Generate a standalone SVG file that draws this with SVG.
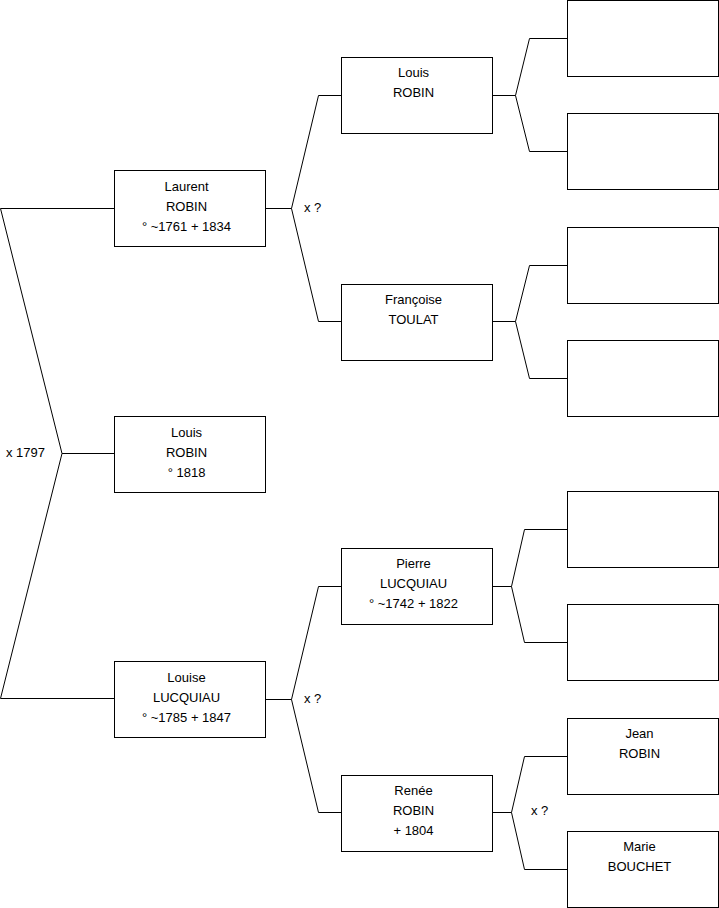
<svg xmlns="http://www.w3.org/2000/svg" width="719" height="908" viewBox="0 0 719 908">
<style>
.box{fill:#fff;stroke:#000;stroke-width:1}
.c{fill:none;stroke:#000;stroke-width:1}
text{font-family:"Liberation Sans",Arial,sans-serif;font-size:13px;fill:#000}
.m{text-anchor:middle}
</style>
<rect width="719" height="908" fill="#fff"/>
<g id="connectors">
<polyline class="c" points="114,208.5 0.5,208.5 62,453.5 0.5,698.5 114,698.5"/>
<line class="c" x1="62" y1="453.5" x2="114" y2="453.5"/>
<polyline class="c" points="341,95.5 318.5,95.5 291.5,208.5 318.5,321.5 341,321.5"/>
<line class="c" x1="265" y1="208.5" x2="291.5" y2="208.5"/>
<polyline class="c" points="341,586.5 318.5,586.5 291.5,699.5 318.5,812.5 341,812.5"/>
<line class="c" x1="265" y1="699.5" x2="291.5" y2="699.5"/>
<polyline class="c" points="567,38.5 529.5,38.5 515.5,95.5 529.5,151.5 567,151.5"/>
<line class="c" x1="492" y1="95.5" x2="515.5" y2="95.5"/>
<polyline class="c" points="567,265.5 529.5,265.5 515.5,321.5 529.5,378.5 567,378.5"/>
<line class="c" x1="492" y1="321.5" x2="515.5" y2="321.5"/>
<polyline class="c" points="567,529.5 524.5,529.5 511.5,586.5 524.5,642.5 567,642.5"/>
<line class="c" x1="492" y1="586.5" x2="511.5" y2="586.5"/>
<polyline class="c" points="567,756.5 524.5,756.5 511.5,812.5 524.5,869.5 567,869.5"/>
<line class="c" x1="492" y1="812.5" x2="511.5" y2="812.5"/>
</g>
<g id="labels">
<text x="6" y="457">x 1797</text>
<text x="304" y="212">x ?</text>
<text x="304" y="703">x ?</text>
<text x="531" y="815">x ?</text>
</g>
<g id="laurent"><rect class="box" x="114.5" y="170.5" width="151" height="76"/>
<text class="m" x="186.5" y="191">Laurent</text><text class="m" x="186.5" y="211">ROBIN</text><text class="m" x="186.5" y="231">° ~1761 + 1834</text></g>
<g id="louis1818"><rect class="box" x="114.5" y="416.5" width="151" height="76"/>
<text class="m" x="186.5" y="437">Louis</text><text class="m" x="186.5" y="457">ROBIN</text><text class="m" x="186.5" y="477">° 1818</text></g>
<g id="louise"><rect class="box" x="114.5" y="661.5" width="151" height="76"/>
<text class="m" x="186.5" y="682">Louise</text><text class="m" x="186.5" y="702">LUCQUIAU</text><text class="m" x="186.5" y="722">° ~1785 + 1847</text></g>
<g id="louis"><rect class="box" x="341.5" y="57.5" width="151" height="76"/>
<text class="m" x="413.5" y="77">Louis</text><text class="m" x="413.5" y="97">ROBIN</text></g>
<g id="francoise"><rect class="box" x="341.5" y="284.5" width="151" height="76"/>
<text class="m" x="413.5" y="304">Françoise</text><text class="m" x="413.5" y="324">TOULAT</text></g>
<g id="pierre"><rect class="box" x="341.5" y="548.5" width="151" height="76"/>
<text class="m" x="413.5" y="568">Pierre</text><text class="m" x="413.5" y="588">LUCQUIAU</text><text class="m" x="413.5" y="608">° ~1742 + 1822</text></g>
<g id="renee"><rect class="box" x="341.5" y="775.5" width="151" height="76"/>
<text class="m" x="413.5" y="795">Renée</text><text class="m" x="413.5" y="815">ROBIN</text><text class="m" x="413.5" y="835">+ 1804</text></g>
<g id="g3a"><rect class="box" x="567.5" y="0.5" width="151" height="76"/></g>
<g id="g3b"><rect class="box" x="567.5" y="113.5" width="151" height="76"/></g>
<g id="g3c"><rect class="box" x="567.5" y="227.5" width="151" height="76"/></g>
<g id="g3d"><rect class="box" x="567.5" y="340.5" width="151" height="76"/></g>
<g id="g3e"><rect class="box" x="567.5" y="491.5" width="151" height="76"/></g>
<g id="g3f"><rect class="box" x="567.5" y="604.5" width="151" height="76"/></g>
<g id="jean"><rect class="box" x="567.5" y="718.5" width="151" height="76"/>
<text class="m" x="639.5" y="738">Jean</text><text class="m" x="639.5" y="758">ROBIN</text></g>
<g id="marie"><rect class="box" x="567.5" y="831.5" width="151" height="76"/>
<text class="m" x="639.5" y="851">Marie</text><text class="m" x="639.5" y="871">BOUCHET</text></g>
</svg>
